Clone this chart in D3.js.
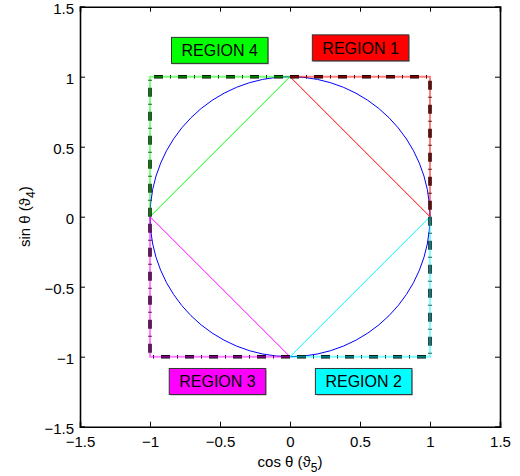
<!DOCTYPE html>
<html>
<head>
<meta charset="utf-8">
<script src="https://cdn.jsdelivr.net/npm/d3@7"></script>
<style>
  body { margin: 0; background: #fff; }
  text { font-family: "Liberation Sans", Arial, sans-serif; fill: #000; }
</style>
</head>
<body>
<div id="chart"></div>
<script>
// axis ticks
var ticks = [-1.5, -1, -0.5, 0, 0.5, 1, 1.5];

// quadrant names, colours, corner paths and label positions
var regionNames = ["REGION 1", "REGION 2", "REGION 3", "REGION 4"];
var regionColors = ["#ff0000", "#00ffff", "#ff00ff", "#00ff00"];
var regionEdges = [
    [[0, 1], [1, 1], [1, 0]],
    [[1, 0], [1, -1], [0, -1]],
    [[0, -1], [-1, -1], [-1, 0]],
    [[-1, 0], [-1, 1], [0, 1]]
];
var regionDiag = [
    [[0, 1], [1, 0]],
    [[1, 0], [0, -1]],
    [[0, -1], [-1, 0]],
    [[-1, 0], [0, 1]]
];
var labelX = [0.504, 0.526, -0.518, -0.502];
var labelY = [1.206, -1.177, -1.177, 1.188];
var circleRadius = 1;

var margin = { top: 7, right: 20, bottom: 49, left: 80 },
    w = 420,
    h = 420;

var svg = d3.select('#chart')
    .append('svg')
    .attr('width', 520)
    .attr('height', 476)
    .append('g')
    .attr("transform", `translate(${margin.left},${margin.top - 0.3})`);

var x = d3.scaleLinear().domain([-1.5, 1.5]).range([0, w]);
var y = d3.scaleLinear().domain([-1.5, 1.5]).range([h, 0]);

var fmt = d => d < 0 ? "\u2212" + Math.abs(d) : String(d);

// unit circle
svg.append('ellipse')
    .attr('cx', x(0))
    .attr('cy', y(0))
    .attr('rx', x(circleRadius) - x(0))
    .attr('ry', y(0) - y(circleRadius))
    .attr('fill', 'none')
    .attr('stroke', '#0000ff')
    .attr('stroke-width', 1);

var line = d3.line().x(d => x(d[0])).y(d => y(d[1]));

// diamond lines
svg.append('g').selectAll('path')
    .data(regionDiag)
    .enter().append('path')
    .attr('d', line)
    .attr('fill', 'none')
    .attr('stroke', (d, i) => regionColors[i])
    .attr('stroke-width', 1);

// black dash-dot edges
svg.append('g').selectAll('path')
    .data(regionEdges)
    .enter().append('path')
    .attr('d', line)
    .attr('fill', 'none')
    .attr('stroke', '#000')
    .attr('stroke-width', 3.5)
    .attr('stroke-dasharray', '9,7,1,7');

// coloured edges over them
svg.append('g').selectAll('path')
    .data(regionEdges)
    .enter().append('path')
    .attr('d', line)
    .attr('fill', 'none')
    .attr('stroke', (d, i) => regionColors[i])
    .attr('stroke-opacity', 0.5)
    .attr('stroke-width', 2);

// axes box with inward ticks
var tickLen = 5;
svg.append('g')
    .attr('transform', `translate(0,${h})`)
    .call(d3.axisBottom(x).tickValues(ticks).tickSize(-tickLen).tickPadding(10).tickFormat(fmt));
svg.append('g')
    .call(d3.axisTop(x).tickValues(ticks).tickSize(-tickLen).tickFormat(''));
svg.append('g')
    .attr('class', 'yaxis')
    .call(d3.axisLeft(y).tickValues(ticks).tickSize(-tickLen).tickPadding(6).tickFormat(fmt));
svg.append('g')
    .attr('transform', `translate(${w},0)`)
    .call(d3.axisRight(y).tickValues(ticks).tickSize(-tickLen).tickFormat(''));

svg.selectAll('.domain').attr('stroke', '#000').attr('stroke-width', 1.6);
svg.selectAll('.tick line').attr('stroke', '#000').attr('stroke-width', 1);
svg.selectAll('.tick text').style('font-size', '15px');
svg.selectAll('.yaxis .tick text').attr('dy', '0.42em');

// region labels
var labels = svg.append('g').selectAll('g')
    .data(regionNames)
    .enter().append('g')
    .attr('transform', (d, i) => `translate(${x(labelX[i])},${y(labelY[i])})`);

labels.append('text')
    .attr('text-anchor', 'middle')
    .attr('dy', '0.36em')
    .style('font-size', '16px')
    .text(d => d);

labels.each(function (d, i) {
    var g = d3.select(this);
    var bw = g.select('text').node().getComputedTextLength() + 20;
    g.insert('rect', 'text')
        .attr('x', -bw / 2 + 1)
        .attr('y', -12)
        .attr('width', bw)
        .attr('height', 26)
        .attr('fill', '#aaa');
    g.insert('rect', 'text')
        .attr('x', -bw / 2)
        .attr('y', -13)
        .attr('width', bw)
        .attr('height', 26)
        .attr('fill', regionColors[i])
        .attr('stroke', '#333')
        .attr('stroke-width', 1);
});

// axis titles
var xt = svg.append('text')
    .attr('x', w / 2)
    .attr('y', h + 40)
    .attr('text-anchor', 'middle')
    .style('font-size', '15px');
xt.append('tspan').text('cos \u03b8 (\u03d1');
xt.append('tspan').attr('dy', 5).style('font-size', '12px').text('5');
xt.append('tspan').attr('dy', -5).text(')');

var yt = svg.append('text')
    .attr('transform', `translate(${-50},${h / 2}) rotate(-90)`)
    .attr('text-anchor', 'middle')
    .style('font-size', '15px');
yt.append('tspan').text('sin \u03b8 (\u03d1');
yt.append('tspan').attr('dy', 5).style('font-size', '12px').text('4');
yt.append('tspan').attr('dy', -5).text(')');
</script>
</body>
</html>
